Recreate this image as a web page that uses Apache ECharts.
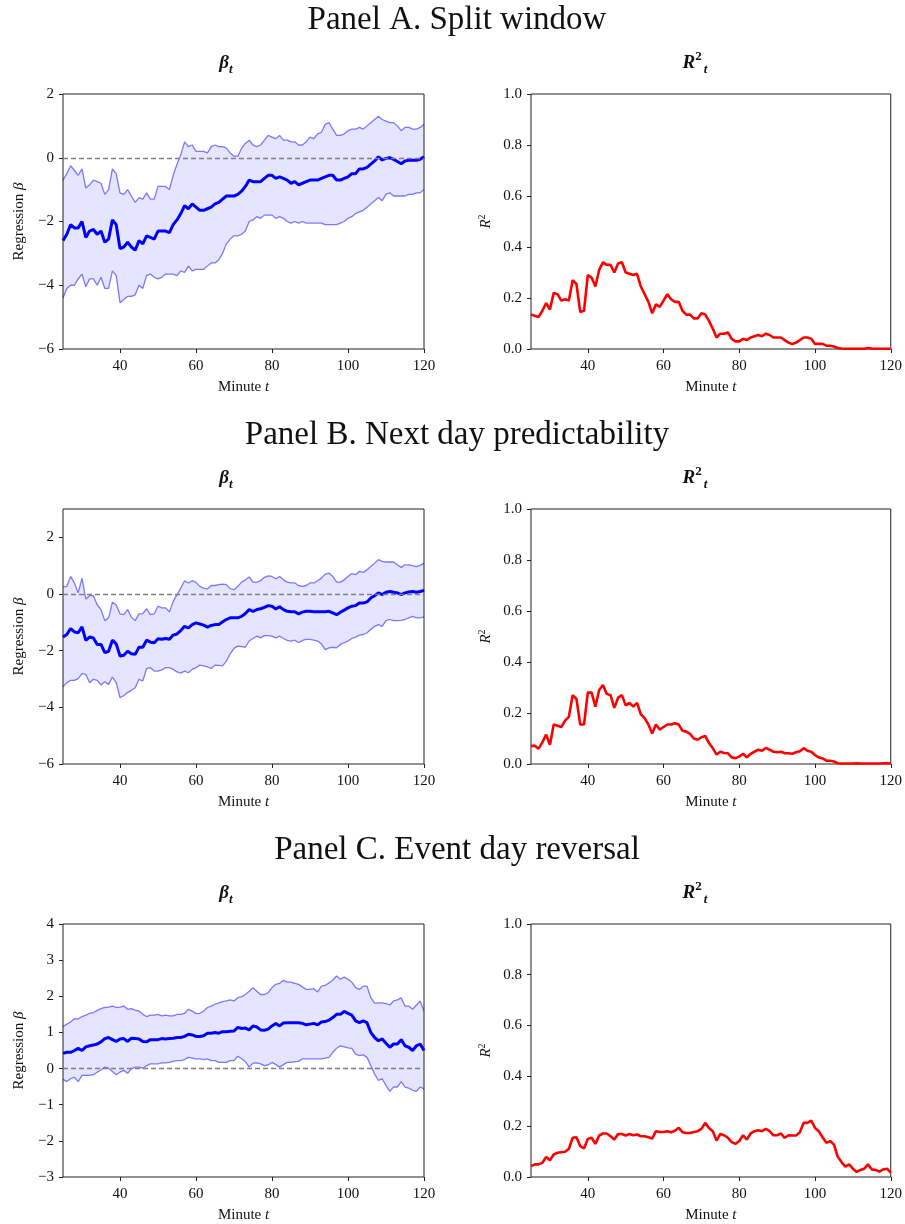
<!DOCTYPE html>
<html>
<head>
<meta charset="utf-8">
<script src="https://cdn.jsdelivr.net/npm/echarts@6/dist/echarts.min.js"></script>
<style>
  html, body { margin: 0; background: #fff; }
  #chart { width: 905px; height: 1224px; }
</style>
</head>
<body>
<div id="chart"></div>
<script>
// minutes 25..120
var minutes = [];
for (var m = 25; m <= 120; m++) minutes.push(m);

var panelTitles = ['Panel A. Split window', 'Panel B. Next day predictability', 'Panel C. Event day reversal'];
var xTicks = [40, 60, 80, 100, 120];

// Panel A
var aMean = [-2.6,-2.4,-2.1,-2.2,-2.2,-2.0,-2.5,-2.3,-2.25,-2.4,
  -2.3,-2.65,-2.55,-1.95,-2.1,-2.85,-2.8,-2.65,-2.8,-2.9,
  -2.6,-2.7,-2.45,-2.5,-2.55,-2.3,-2.3,-2.3,-2.35,-2.1,
  -1.95,-1.75,-1.5,-1.6,-1.45,-1.55,-1.65,-1.65,-1.6,-1.55,
  -1.45,-1.4,-1.3,-1.2,-1.2,-1.2,-1.15,-1.05,-0.9,-0.7,
  -0.75,-0.75,-0.75,-0.65,-0.55,-0.55,-0.65,-0.6,-0.65,-0.7,
  -0.8,-0.75,-0.85,-0.8,-0.75,-0.7,-0.7,-0.7,-0.65,-0.6,
  -0.55,-0.55,-0.7,-0.7,-0.65,-0.6,-0.5,-0.5,-0.35,-0.35,
  -0.3,-0.2,-0.1,0.03,-0.07,-0.02,0.0,-0.05,-0.12,-0.19,
  -0.1,-0.08,-0.08,-0.08,-0.05,0.03];
var aUpper = [-0.7,-0.5,-0.25,-0.4,-0.55,-0.35,-0.95,-0.85,-0.7,-0.75,
  -0.8,-1.15,-1.0,-0.35,-0.5,-1.1,-1.15,-1.0,-1.2,-1.4,
  -1.25,-1.3,-1.1,-1.3,-1.3,-0.9,-0.9,-0.9,-1.0,-0.55,
  -0.2,0.1,0.5,0.35,0.4,0.2,0.2,0.2,0.15,0.35,
  0.4,0.35,0.35,0.3,0.15,0.05,0.05,0.3,0.45,0.55,
  0.4,0.35,0.4,0.55,0.7,0.65,0.6,0.7,0.55,0.55,
  0.5,0.5,0.4,0.4,0.5,0.65,0.6,0.75,0.8,1.05,
  1.1,0.9,0.7,0.7,0.75,0.85,0.9,0.9,0.95,0.9,
  1.0,1.1,1.2,1.3,1.2,1.15,1.1,1.1,1.0,0.85,
  0.95,0.95,0.9,0.9,0.95,1.05];
var aLower = [-4.4,-4.1,-4.0,-4.0,-3.8,-3.65,-4.05,-3.8,-3.8,-4.0,
  -3.75,-4.1,-4.1,-3.55,-3.7,-4.55,-4.45,-4.35,-4.35,-4.3,
  -4.0,-4.1,-3.7,-3.65,-3.75,-3.8,-3.75,-3.65,-3.65,-3.65,
  -3.7,-3.55,-3.6,-3.4,-3.55,-3.5,-3.5,-3.5,-3.4,-3.3,
  -3.3,-3.2,-3.0,-2.7,-2.55,-2.45,-2.45,-2.4,-2.3,-2.0,
  -1.95,-1.85,-1.9,-1.8,-1.8,-1.8,-1.9,-1.85,-1.9,-2.0,
  -2.05,-2.0,-2.05,-2.0,-2.05,-2.05,-2.05,-2.05,-2.05,-2.1,
  -2.1,-2.1,-2.1,-2.05,-2.0,-1.9,-1.85,-1.75,-1.7,-1.65,
  -1.55,-1.45,-1.35,-1.25,-1.35,-1.15,-1.1,-1.2,-1.2,-1.2,
  -1.2,-1.15,-1.15,-1.1,-1.1,-1.0];
var aR2 = [0.135,0.13,0.125,0.15,0.18,0.155,0.22,0.215,0.19,0.195,
  0.19,0.27,0.255,0.145,0.15,0.29,0.28,0.245,0.31,0.34,
  0.33,0.33,0.30,0.335,0.34,0.30,0.295,0.29,0.295,0.245,
  0.215,0.185,0.14,0.175,0.165,0.19,0.215,0.195,0.185,0.185,
  0.15,0.135,0.135,0.12,0.12,0.14,0.135,0.11,0.08,0.045,
  0.06,0.06,0.065,0.04,0.03,0.03,0.04,0.035,0.045,0.05,
  0.055,0.05,0.06,0.055,0.045,0.045,0.045,0.035,0.025,0.02,
  0.025,0.035,0.045,0.045,0.04,0.02,0.02,0.02,0.013,0.013,
  0.01,0.004,0.002,0.001,0.001,0.001,0.001,0.001,0.001,0.004,
  0.002,0.001,0.001,0.001,0.001,0.001];

// Panel B
var bMean = [-1.52,-1.43,-1.22,-1.34,-1.37,-1.16,-1.64,-1.52,-1.55,-1.78,
  -1.78,-2.07,-2.02,-1.63,-1.76,-2.19,-2.16,-2.02,-2.11,-2.13,
  -1.88,-1.88,-1.63,-1.70,-1.72,-1.58,-1.6,-1.57,-1.6,-1.45,
  -1.41,-1.29,-1.14,-1.2,-1.08,-1.02,-1.06,-1.1,-1.17,-1.11,
  -1.08,-1.08,-0.98,-0.9,-0.84,-0.84,-0.84,-0.79,-0.69,-0.55,
  -0.61,-0.55,-0.52,-0.47,-0.41,-0.43,-0.53,-0.45,-0.55,-0.61,
  -0.63,-0.63,-0.7,-0.64,-0.61,-0.61,-0.63,-0.63,-0.63,-0.63,
  -0.61,-0.67,-0.73,-0.64,-0.57,-0.49,-0.43,-0.41,-0.32,-0.32,
  -0.28,-0.14,-0.06,0.04,-0.02,0.06,0.09,0.06,0.04,-0.02,
  0.04,0.07,0.09,0.06,0.09,0.13];
var bUpper = [0.25,0.27,0.62,0.39,0.04,0.56,-0.18,-0.06,-0.06,-0.38,
  -0.55,-0.94,-0.84,-0.29,-0.38,-0.7,-0.73,-0.55,-0.82,-0.94,
  -0.7,-0.69,-0.52,-0.73,-0.7,-0.43,-0.49,-0.49,-0.63,-0.26,
  -0.02,0.21,0.47,0.39,0.47,0.41,0.27,0.21,0.18,0.3,
  0.3,0.33,0.35,0.33,0.19,0.15,0.27,0.42,0.5,0.6,
  0.42,0.42,0.47,0.59,0.64,0.62,0.54,0.62,0.5,0.42,
  0.39,0.39,0.3,0.27,0.3,0.39,0.39,0.47,0.56,0.7,
  0.74,0.62,0.42,0.42,0.5,0.62,0.72,0.68,0.8,0.76,
  0.86,0.97,1.09,1.21,1.15,1.13,1.13,1.13,1.03,0.94,
  1.03,1.03,1.0,0.97,1.01,1.09];
var bLower = [-3.28,-3.13,-3.05,-3.05,-2.99,-2.81,-2.84,-3.13,-3.01,-3.05,
  -3.21,-3.1,-3.19,-2.93,-3.13,-3.66,-3.58,-3.48,-3.4,-3.31,
  -3.01,-3.07,-2.63,-2.6,-2.72,-2.72,-2.68,-2.6,-2.6,-2.66,
  -2.75,-2.79,-2.72,-2.78,-2.66,-2.6,-2.51,-2.54,-2.57,-2.63,
  -2.51,-2.52,-2.54,-2.37,-2.11,-1.92,-1.84,-1.86,-1.88,-1.66,
  -1.57,-1.49,-1.55,-1.47,-1.47,-1.49,-1.55,-1.49,-1.57,-1.64,
  -1.66,-1.63,-1.72,-1.64,-1.6,-1.6,-1.63,-1.66,-1.76,-1.96,
  -1.9,-1.88,-1.9,-1.78,-1.72,-1.66,-1.57,-1.52,-1.45,-1.43,
  -1.37,-1.25,-1.14,-1.08,-1.14,-0.94,-0.9,-0.94,-0.94,-0.93,
  -0.9,-0.84,-0.79,-0.84,-0.84,-0.81];
var bR2 = [0.07,0.072,0.06,0.085,0.115,0.075,0.155,0.15,0.145,0.17,
  0.185,0.27,0.255,0.155,0.155,0.28,0.28,0.225,0.29,0.31,
  0.275,0.27,0.22,0.26,0.27,0.23,0.24,0.225,0.24,0.195,
  0.18,0.155,0.12,0.155,0.135,0.145,0.155,0.155,0.16,0.155,
  0.13,0.127,0.118,0.1,0.095,0.105,0.11,0.082,0.062,0.037,
  0.048,0.043,0.042,0.026,0.023,0.029,0.04,0.026,0.04,0.048,
  0.056,0.052,0.063,0.056,0.048,0.046,0.048,0.042,0.042,0.04,
  0.046,0.05,0.062,0.052,0.048,0.035,0.026,0.022,0.013,0.013,
  0.01,0.003,0.002,0.002,0.002,0.002,0.003,0.002,0.002,0.002,
  0.002,0.002,0.002,0.003,0.003,0.002];

// Panel C
var cMean = [0.42,0.45,0.45,0.5,0.56,0.5,0.6,0.63,0.65,0.68,
  0.74,0.83,0.86,0.8,0.75,0.82,0.83,0.75,0.84,0.83,
  0.82,0.75,0.74,0.8,0.8,0.8,0.83,0.82,0.83,0.84,
  0.86,0.86,0.89,0.95,0.93,0.89,0.89,0.91,0.98,0.98,
  1.0,0.98,1.02,1.02,1.03,1.04,1.14,1.11,1.12,1.07,
  1.18,1.15,1.07,1.06,1.09,1.18,1.25,1.18,1.26,1.27,
  1.27,1.27,1.27,1.25,1.21,1.23,1.25,1.21,1.29,1.3,
  1.34,1.41,1.5,1.5,1.58,1.53,1.48,1.32,1.27,1.32,
  1.27,1.0,0.86,0.77,0.82,0.7,0.59,0.68,0.68,0.8,
  0.63,0.59,0.5,0.63,0.68,0.5];
var cUpper = [1.16,1.23,1.29,1.38,1.37,1.44,1.48,1.53,1.55,1.61,
  1.66,1.69,1.7,1.73,1.69,1.7,1.73,1.64,1.66,1.62,
  1.59,1.5,1.44,1.48,1.48,1.5,1.46,1.48,1.46,1.46,
  1.5,1.5,1.53,1.64,1.59,1.52,1.53,1.59,1.69,1.73,
  1.78,1.82,1.85,1.87,1.9,1.87,1.96,1.99,2.05,2.14,
  2.24,2.14,2.05,2.05,2.1,2.24,2.33,2.36,2.44,2.39,
  2.39,2.36,2.33,2.26,2.19,2.19,2.21,2.12,2.28,2.3,
  2.37,2.45,2.56,2.47,2.53,2.47,2.39,2.24,2.19,2.28,
  2.28,1.96,1.81,1.82,1.82,1.8,1.76,1.87,1.9,1.96,
  1.73,1.73,1.64,1.76,1.87,1.59];
var cLower = [-0.3,-0.36,-0.28,-0.24,-0.36,-0.19,-0.19,-0.19,-0.17,-0.1,
  -0.04,0.04,0.01,-0.08,-0.17,-0.1,-0.05,-0.13,-0.01,0.04,
  0.04,0.01,0.08,0.13,0.13,0.13,0.16,0.16,0.17,0.2,
  0.22,0.22,0.25,0.31,0.29,0.27,0.27,0.25,0.27,0.22,
  0.22,0.17,0.17,0.17,0.22,0.22,0.34,0.27,0.19,0.04,
  0.15,0.16,0.13,0.08,0.1,0.17,0.11,0.04,0.11,0.17,
  0.17,0.19,0.2,0.27,0.27,0.27,0.27,0.27,0.27,0.29,
  0.31,0.45,0.56,0.63,0.6,0.57,0.56,0.4,0.36,0.38,
  0.31,0.08,-0.15,-0.33,-0.28,-0.47,-0.63,-0.51,-0.51,-0.36,
  -0.51,-0.54,-0.6,-0.63,-0.51,-0.56];
var cR2 = [0.043,0.05,0.05,0.056,0.079,0.066,0.089,0.096,0.098,0.1,
  0.111,0.155,0.157,0.122,0.113,0.15,0.155,0.131,0.164,0.172,
  0.172,0.161,0.148,0.17,0.17,0.164,0.17,0.165,0.168,0.161,
  0.161,0.157,0.152,0.181,0.178,0.178,0.181,0.177,0.183,0.194,
  0.177,0.174,0.174,0.178,0.181,0.19,0.214,0.194,0.181,0.144,
  0.17,0.165,0.155,0.138,0.131,0.142,0.165,0.148,0.172,0.181,
  0.185,0.181,0.19,0.181,0.165,0.165,0.172,0.155,0.165,0.164,
  0.164,0.177,0.214,0.214,0.223,0.194,0.181,0.157,0.135,0.142,
  0.128,0.08,0.059,0.041,0.05,0.033,0.02,0.028,0.033,0.05,
  0.03,0.028,0.021,0.03,0.033,0.017];

var betaRanges = [[-6, 2, [-6, -4, -2, 0, 2]], [-6, 3, [-6, -4, -2, 0, 2]], [-3, 4, [-3, -2, -1, 0, 1, 2, 3, 4]]];
var r2Ticks = [0, 0.2, 0.4, 0.6, 0.8, 1.0];

var panels = [
  { mean: aMean, upper: aUpper, lower: aLower, r2: aR2 },
  { mean: bMean, upper: bUpper, lower: bLower, r2: bR2 },
  { mean: cMean, upper: cUpper, lower: cLower, r2: cR2 }
];

var FONT = "'Liberation Serif', 'DejaVu Serif', serif";
var INK = '#111';
var panelTops = [94, 509, 924];
var plotW = 361, plotH = 255;
var leftX = 63, rightX = 531;

function pairs(arr) {
  return minutes.map(function (t, i) { return [t, arr[i]]; });
}
function minus(v) {
  return String(v).replace('-', '\u2212');
}
var mathRich = {
  n: { fontFamily: FONT, fontSize: 15, color: INK },
  i: { fontFamily: FONT, fontSize: 15, fontStyle: 'italic', color: INK },
  sup: { fontFamily: FONT, fontSize: 10, color: INK, verticalAlign: 'top', lineHeight: 18 }
};

// filled confidence band drawn as one polygon through the axis scales
function bandRenderer(lower, upper) {
  return function (params, api) {
    if (params.dataIndex !== 0) return null;
    var pts = [];
    for (var i = 0; i < minutes.length; i++) pts.push(api.coord([minutes[i], upper[i]]));
    for (var j = minutes.length - 1; j >= 0; j--) pts.push(api.coord([minutes[j], lower[j]]));
    return {
      type: 'polygon',
      shape: { points: pts },
      style: { fill: 'rgba(0,0,255,0.1)', stroke: null }
    };
  };
}

var chartDom = document.getElementById('chart');
var myChart = echarts.init(chartDom, null, { renderer: 'canvas' });

var grids = [], xAxes = [], yAxes = [], series = [], titles = [];

panels.forEach(function (p, k) {
  var top = panelTops[k];

  titles.push({
    text: panelTitles[k], left: 452, top: top - 95, textAlign: 'center',
    textStyle: { fontFamily: FONT, fontSize: 33, fontWeight: 'normal', color: INK }
  });
  titles.push({
    text: '{b|β}{s|t}', left: 221, top: top - 49, textAlign: 'center',
    textStyle: { rich: {
      b: { fontFamily: FONT, fontSize: 19, fontStyle: 'italic', color: INK, lineHeight: 26, verticalAlign: 'middle' },
      s: { fontFamily: FONT, fontSize: 13, fontStyle: 'italic', color: INK, lineHeight: 26, verticalAlign: 'bottom' }
    } }
  });
  titles.push({
    text: '{b|R}{p|2}{s|t}', left: 690, top: top - 49, textAlign: 'center',
    textStyle: { rich: {
      b: { fontFamily: FONT, fontSize: 19, fontStyle: 'italic', color: INK, lineHeight: 26, verticalAlign: 'middle' },
      p: { fontFamily: FONT, fontSize: 13, color: INK, lineHeight: 26, verticalAlign: 'top' },
      s: { fontFamily: FONT, fontSize: 13, fontStyle: 'italic', color: INK, lineHeight: 26, verticalAlign: 'bottom', padding: [0, 0, 0, 2] }
    } }
  });

  [leftX, rightX].forEach(function (x, side) {
    var gi = grids.length;
    grids.push({ left: x, top: top, width: plotW, height: plotH, show: true, borderColor: '#222', borderWidth: 1, backgroundColor: 'transparent' });
    xAxes.push({
      type: 'value', gridIndex: gi, min: 25, max: 120,
      name: '{n|Minute }{i|t}', nameLocation: 'middle', nameGap: 31,
      nameTextStyle: { rich: mathRich },
      axisLine: { show: false, onZero: false },
      axisTick: { show: true, length: 4, lineStyle: { color: '#222' }, customValues: xTicks },
      axisLabel: { customValues: xTicks, fontFamily: FONT, fontSize: 15, color: INK, margin: 10 },
      splitLine: { show: false }
    });
    var yr = side === 0 ? betaRanges[k] : [0, 1, r2Ticks];
    yAxes.push({
      type: 'value', gridIndex: gi, min: yr[0], max: yr[1],
      name: side === 0 ? '{n|Regression }{i|β}' : '{i|R}{sup|2}',
      nameLocation: 'middle', nameGap: 36, nameRotate: 90,
      nameTextStyle: { rich: mathRich },
      axisLine: { show: false, onZero: false },
      axisTick: { show: true, length: 4, lineStyle: { color: '#222' }, customValues: yr[2] },
      axisLabel: {
        customValues: yr[2], fontFamily: FONT, fontSize: 15, color: INK, margin: 9,
        formatter: side === 0 ? function (v) { return minus(v); } : function (v) { return v.toFixed(1); }
      },
      splitLine: { show: false }
    });

    if (side === 0) {
      series.push({
        type: 'custom', xAxisIndex: gi, yAxisIndex: gi, silent: true, z: 1,
        data: minutes.map(function (t, i) { return [t, p.lower[i], p.upper[i]]; }),
        encode: { x: 0, y: [1, 2] },
        renderItem: bandRenderer(p.lower, p.upper)
      });
      series.push({
        type: 'line', xAxisIndex: gi, yAxisIndex: gi, data: pairs(p.upper), symbol: 'none',
        lineStyle: { color: 'rgba(0,0,255,0.5)', width: 1.3 }, z: 3,
        markLine: {
          silent: true, symbol: 'none', label: { show: false },
          lineStyle: { color: '#7f7f7f', type: [5, 3], width: 1.3 },
          data: [{ yAxis: 0 }]
        }
      });
      series.push({
        type: 'line', xAxisIndex: gi, yAxisIndex: gi, data: pairs(p.lower), symbol: 'none',
        lineStyle: { color: 'rgba(0,0,255,0.5)', width: 1.3 }, z: 3
      });
      series.push({
        type: 'line', xAxisIndex: gi, yAxisIndex: gi, data: pairs(p.mean), symbol: 'none',
        lineStyle: { color: '#0000ff', width: 3 }, z: 4
      });
    } else {
      series.push({
        type: 'line', xAxisIndex: gi, yAxisIndex: gi, data: pairs(p.r2), symbol: 'none',
        lineStyle: { color: '#ff0000', width: 2.6 }, z: 4
      });
    }
  });
});

var option = {
  animation: false,
  backgroundColor: '#fff',
  title: titles,
  grid: grids,
  xAxis: xAxes,
  yAxis: yAxes,
  series: series
};
myChart.setOption(option);
</script>
</body>
</html>
